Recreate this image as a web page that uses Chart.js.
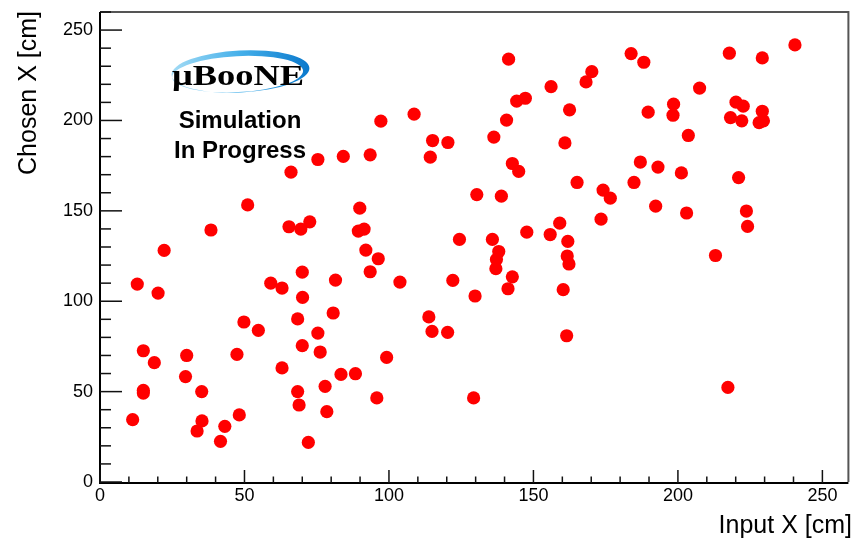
<!DOCTYPE html>
<html><head><meta charset="utf-8">
<script src="https://cdn.jsdelivr.net/npm/chart.js@4.4.0/dist/chart.umd.min.js"></script>
<style>html,body{margin:0;padding:0;background:#fff;}canvas{display:block;}</style>
</head><body>
<canvas id="c" width="855" height="539" style="width:855px;height:539px"></canvas>
<script>
const inputX = [22.2,12.9,20.1,70.0,81.5,59.1,63.0,70.1,80.7,68.4,49.8,54.8,75.4,70.0,76.2,15.0,18.8,30.0,47.4,63.0,29.6,83.4,35.2,15.0,15.0,68.4,77.9,68.9,78.5,11.3,35.3,33.6,43.2,48.2,41.7,72.1,
  75.4,84.2,66.1,51.1,38.4,65.4,69.5,72.6,
  141.4,170.2,168.2,156.1,144.2,147.2,162.5,140.7,108.7,97.2,136.3,160.9,115.1,120.4,114.3,93.5,142.7,144.9,165.1,130.4,138.9,89.9,89.4,91.4,124.4,135.8,147.7,155.8,159.1,161.9,
  92.0,96.3,93.5,103.8,122.1,129.8,138.0,137.2,137.0,142.7,141.2,161.7,162.3,160.3,161.5,113.8,114.9,120.3,99.2,88.4,95.8,129.3,
  240.5,217.8,229.2,183.8,188.2,207.5,198.5,198.3,189.7,220.1,222.6,218.2,222.1,229.2,228.1,229.6,203.6,187.0,193.1,201.2,221.0,184.8,174.1,176.6,192.3,203.0,223.7,224.1,173.4,
  213.0,217.3];
const chosenX = [128.1,109.5,104.5,116.1,111.7,110.0,107.3,102.1,93.5,90.2,88.5,83.9,82.4,75.4,71.9,72.6,66.0,70.0,70.6,63.1,58.3,59.5,50.0,50.7,49.2,50.0,52.9,42.6,38.9,34.5,33.8,28.2,30.8,37.1,22.5,21.9,
  178.4,180.1,171.4,153.3,139.4,141.2,139.9,143.9,
  233.9,227.0,221.3,218.7,210.7,212.3,205.9,200.2,203.5,199.6,190.8,187.6,188.9,187.8,179.7,181.0,176.2,171.8,165.7,159.0,158.1,151.5,138.8,139.9,134.2,134.2,138.2,136.9,143.2,133.1,
  128.3,123.5,116.3,110.6,111.5,102.9,127.5,123.1,118.0,113.5,106.9,125.0,120.6,106.4,80.9,91.3,83.3,82.8,68.9,59.9,46.5,46.5,
  241.8,237.2,234.6,237.0,232.2,217.9,209.0,202.9,204.6,210.1,207.9,201.6,199.8,205.1,198.8,199.8,191.7,177.0,174.2,171.0,168.4,165.7,161.5,157.0,152.6,148.8,149.9,141.4,145.4,
  125.3,52.3];
const xTickValues = [0,50,100,150,200,250];
const yTickValues = [0,50,100,150,200,250];
const xMinorStep = 10, yMinorStep = 10;
const xTitle = 'Input X [cm]';
const yTitle = 'Chosen X [cm]';
const logoText = 'μBooNE';
const noteLines = ['Simulation', 'In Progress'];

const points = inputX.map((x, i) => ({x: x, y: chosenX[i]}));
const SANS = '"Liberation Sans", Arial, Helvetica, sans-serif';

const decor = {
  id: 'decor',
  afterDraw(chart) {
    const ctx = chart.ctx, a = chart.chartArea;
    const xs = chart.scales.x, ys = chart.scales.y;
    ctx.save();
    // frame
    ctx.lineWidth = 2; ctx.strokeStyle = '#555';
    ctx.beginPath(); ctx.moveTo(a.left, a.top); ctx.lineTo(a.right, a.top); ctx.lineTo(a.right, a.bottom); ctx.stroke();
    ctx.strokeStyle = '#000';
    ctx.beginPath(); ctx.moveTo(a.left, a.top); ctx.lineTo(a.left, a.bottom + 1); ctx.lineTo(a.right, a.bottom + 1); ctx.stroke();
    // ticks
    ctx.lineWidth = 1.5; ctx.strokeStyle = '#111';
    for (let v = 0; v <= ys.max; v += yMinorStep) {
      const p = ys.getPixelForValue(v);
      const len = yTickValues.includes(v) ? 22 : 11;
      ctx.beginPath(); ctx.moveTo(a.left, p); ctx.lineTo(a.left + len, p); ctx.stroke();
    }
    for (let v = 0; v <= xs.max; v += xMinorStep) {
      const p = xs.getPixelForValue(v);
      const len = xTickValues.includes(v) ? 13 : 6.5;
      ctx.beginPath(); ctx.moveTo(p, a.bottom + 1); ctx.lineTo(p, a.bottom + 1 - len); ctx.stroke();
    }
    // axis titles
    ctx.fillStyle = '#000';
    ctx.font = '25px ' + SANS;
    ctx.textAlign = 'right'; ctx.textBaseline = 'alphabetic';
    ctx.fillText(xTitle, 852, 533);
    ctx.save();
    ctx.translate(36, 11); ctx.rotate(-Math.PI / 2);
    ctx.fillText(yTitle, 0, 0);
    ctx.restore();
    // logo swoosh
    ctx.save();
    ctx.translate(240.5, 71.5); ctx.rotate(-0.05);
    const g = ctx.createLinearGradient(-70, 0, 70, 0);
    g.addColorStop(0, '#a5dcf5'); g.addColorStop(0.5, '#45b0ea'); g.addColorStop(1, '#0a78cc');
    ctx.beginPath();
    ctx.ellipse(0, 0, 69, 21, 0, 0, Math.PI * 2);
    ctx.ellipse(-3, 2.5, 65.5, 18, 0, 0, Math.PI * 2);
    ctx.fillStyle = g; ctx.fill('evenodd');
    ctx.restore();
    // logo text
    ctx.save();
    ctx.font = 'bold 30px "Liberation Serif", "DejaVu Serif", serif';
    const w = ctx.measureText(logoText).width;
    ctx.translate(172, 85); ctx.scale(132 / w, 1);
    ctx.textAlign = 'left'; ctx.fillStyle = '#000';
    ctx.fillText(logoText, 0, 0);
    ctx.restore();
    // simulation note
    ctx.font = 'bold 24px ' + SANS;
    ctx.textAlign = 'center'; ctx.fillStyle = '#000';
    ctx.fillText(noteLines[0], 240, 128);
    ctx.fillText(noteLines[1], 240, 158);
    ctx.restore();
  }
};

new Chart(document.getElementById('c'), {
  type: 'scatter',
  data: { datasets: [{ data: points, backgroundColor: '#ff0000', borderWidth: 0, pointRadius: 6.6, pointHoverRadius: 6.6 }] },
  options: {
    responsive: false, animation: false, devicePixelRatio: 1,
    layout: { padding: { left: 0, right: 6, top: 12, bottom: 0 } },
    plugins: { legend: { display: false }, tooltip: { enabled: false } },
    scales: {
      x: {
        type: 'linear', min: 0, max: 259,
        afterBuildTicks: s => { s.ticks = xTickValues.map(v => ({ value: v })); },
        afterFit: s => { s.height = 57; s.paddingLeft = 0; s.paddingRight = 0; },
        grid: { display: false, drawTicks: false }, border: { display: false },
        ticks: { color: '#000', font: { family: SANS, size: 18 }, padding: 3, maxRotation: 0, autoSkip: false }
      },
      y: {
        type: 'linear', min: 0, max: 260,
        afterBuildTicks: s => { s.ticks = yTickValues.map(v => ({ value: v })); },
        afterFit: s => { s.width = 100; s.paddingTop = 0; s.paddingBottom = 0; },
        grid: { display: false, drawTicks: false }, border: { display: false },
        ticks: { color: '#000', font: { family: SANS, size: 18 }, padding: 7, autoSkip: false }
      }
    }
  },
  plugins: [decor]
});
</script>
</body></html>
